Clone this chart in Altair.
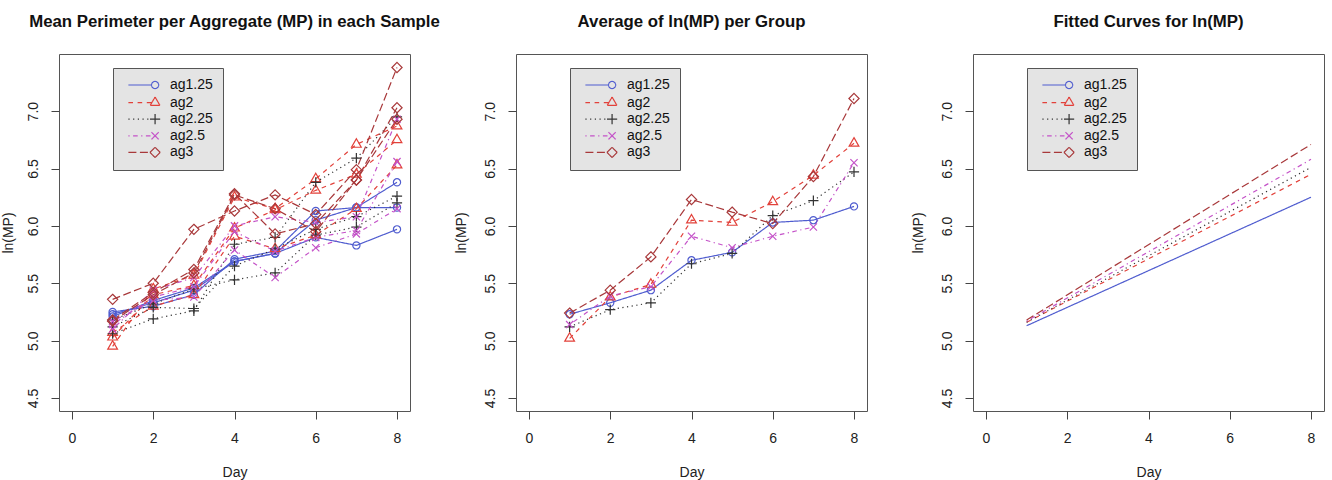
import math
import altair as alt
import pandas as pd

GROUPS = ["ag1.25", "ag2", "ag2.25", "ag2.5", "ag3"]
COLORS = ["#4f5ccf", "#e2413a", "#333333", "#c452c8", "#a8383a"]
DAYS = [1, 2, 3, 4, 5, 6, 7, 8]

# Panel 1: three samples per group, ln(MP) by day
SAMPLES = {
    "ag1.25": [
        [5.25, 5.30, 5.40, 5.71, 5.78, 6.13, 6.16, 6.38],
        [5.23, 5.33, 5.44, 5.69, 5.76, 6.05, 6.16, 6.16],
        [5.21, 5.35, 5.46, 5.69, 5.76, 5.90, 5.83, 5.97],
    ],
    "ag2": [
        [4.95, 5.45, 5.57, 6.25, 6.15, 6.41, 6.71, 6.87],
        [5.03, 5.40, 5.48, 5.98, 6.14, 6.31, 6.45, 6.75],
        [5.07, 5.30, 5.40, 5.91, 5.80, 5.92, 6.15, 6.53],
    ],
    "ag2.25": [
        [5.06, 5.19, 5.26, 5.84, 5.90, 6.38, 6.59, 6.95],
        [5.12, 5.29, 5.28, 5.65, 5.80, 5.97, 6.08, 6.26],
        [5.18, 5.32, 5.45, 5.53, 5.59, 5.92, 5.99, 6.20],
    ],
    "ag2.5": [
        [5.10, 5.44, 5.55, 6.00, 6.08, 6.03, 6.08, 6.93],
        [5.14, 5.38, 5.47, 5.95, 5.78, 5.90, 5.96, 6.56],
        [5.17, 5.35, 5.38, 5.79, 5.55, 5.81, 5.93, 6.15],
    ],
    "ag3": [
        [5.36, 5.50, 5.97, 6.13, 6.27, 6.10, 6.49, 7.38],
        [5.18, 5.42, 5.62, 6.28, 5.93, 6.02, 6.40, 6.93],
        [5.17, 5.40, 5.59, 6.27, 6.15, 5.95, 6.40, 7.03],
    ],
}

# Panel 2: group averages of ln(MP)
AVERAGES = {
    "ag1.25": [5.23, 5.33, 5.44, 5.70, 5.77, 6.03, 6.05, 6.17],
    "ag2":    [5.02, 5.38, 5.49, 6.05, 6.03, 6.21, 6.44, 6.72],
    "ag2.25": [5.12, 5.27, 5.33, 5.67, 5.76, 6.09, 6.22, 6.47],
    "ag2.5":  [5.14, 5.39, 5.47, 5.91, 5.81, 5.91, 5.99, 6.55],
    "ag3":    [5.24, 5.44, 5.73, 6.23, 6.12, 6.02, 6.43, 7.11],
}

# Panel 3: fitted straight lines, value at day 1 and day 8
FIT_DAYS = [1, 8]
FITS = {
    "ag1.25": [5.13, 6.25],
    "ag2":    [5.16, 6.45],
    "ag2.25": [5.16, 6.51],
    "ag2.5":  [5.17, 6.58],
    "ag3":    [5.18, 6.71],
}

X_TICKS = [0, 2, 4, 6, 8]
Y_TICKS = [4.5, 5.0, 5.5, 6.0, 6.5, 7.0]

# ---- tables ----
rows1 = []
for g in GROUPS:
    for i, series in enumerate(SAMPLES[g]):
        for d, v in zip(DAYS, series):
            rows1.append({"group": g, "sample": f"{g}-{i}", "day": d, "value": v})
df1 = pd.DataFrame(rows1)

rows2 = []
for g in GROUPS:
    for d, v in zip(DAYS, AVERAGES[g]):
        rows2.append({"group": g, "sample": g, "day": d, "value": v})
df2 = pd.DataFrame(rows2)

rows3 = []
for g in GROUPS:
    for d, v in zip(FIT_DAYS, FITS[g]):
        rows3.append({"group": g, "sample": g, "day": d, "value": v})
df3 = pd.DataFrame(rows3)

# ---- styles ----
FONT = "Liberation Sans"
DASHES = [[1, 0], [4.6, 4.6], [1.2, 3.5], [1.2, 3.5, 4.6, 3.5], [8, 3.5]]
MARKERS = [
    "M1,0A1,1 0 1,1 -1,0A1,1 0 1,1 1,0Z",
    "M0,-1.555L1.347,0.778L-1.347,0.778Z",
    "M-1.414,0L1.414,0M0,-1.414L0,1.414",
    "M-1,-1L1,1M-1,1L1,-1",
    "M0,-1.414L1.414,0L0,1.414L-1.414,0Z",
]

# outlines of the markers (unit size) as polylines, used to build legend keys
_circle = [(math.cos(2 * math.pi * k / 24), math.sin(2 * math.pi * k / 24)) for k in range(25)]
MARKER_POLYS = [
    [_circle],
    [[(0, -1.555), (1.347, 0.778), (-1.347, 0.778), (0, -1.555)]],
    [[(-1.414, 0), (1.414, 0)], [(0, -1.414), (0, 1.414)]],
    [[(-1, -1), (1, 1)], [(-1, 1), (1, -1)]],
    [[(0, -1.414), (1.414, 0), (0, 1.414), (-1.414, 0), (0, -1.414)]],
]
LINE_END = [5.4, 5.5, 4.986, 5.4, 4.986]
KEY_X = 6.4


def key_path(polys, line_end, step=0.28):
    # the line part is one sub-path (dashed like the series); the marker is cut into
    # short sub-paths so it always shows as a solid outline
    parts = [f"M-1,0L{line_end:.3f},0"]
    for poly in polys:
        for (x0, y0), (x1, y1) in zip(poly[:-1], poly[1:]):
            n = max(1, math.ceil(math.hypot(x1 - x0, y1 - y0) / step))
            for k in range(n):
                ax = x0 + (x1 - x0) * k / n + KEY_X
                ay = y0 + (y1 - y0) * k / n
                bx = x0 + (x1 - x0) * (k + 1) / n + KEY_X
                by = y0 + (y1 - y0) * (k + 1) / n
                parts.append(f"M{ax:.3f},{ay:.3f}L{bx:.3f},{by:.3f}")
    return "".join(parts)


LEGEND_PATHS = [key_path(p, e) for p, e in zip(MARKER_POLYS, LINE_END)]

W, H = 351, 357
MSIZE = 52


def legend():
    return alt.Legend(
        title=None, orient="none", legendX=54, legendY=14,
        fillColor="#e4e4e4", strokeColor="#555", padding=10,
        labelFont=FONT, labelFontSize=14, labelColor="#111",
        labelOffset=31, symbolSize=MSIZE, symbolStrokeWidth=1.2,
        symbolOffset=2, rowPadding=1.6, symbolFillColor="transparent",
    )


def panel(df, title, title_pad, points=True):
    x = alt.X("day:Q", scale=alt.Scale(domain=[-0.32, 8.32], nice=False, zero=False),
              axis=alt.Axis(values=X_TICKS, title="Day", labelPadding=12, titlePadding=20))
    y = alt.Y("value:Q", scale=alt.Scale(domain=[4.387, 7.498], nice=False, zero=False),
              axis=alt.Axis(values=Y_TICKS, format=".1f", title="ln(MP)", labelAngle=270,
                            labelPadding=11, titlePadding=title_pad))
    color = alt.Color("group:N", scale=alt.Scale(domain=GROUPS, range=COLORS), legend=legend())
    dash = alt.StrokeDash("group:N", scale=alt.Scale(domain=GROUPS, range=DASHES), legend=legend())
    shape = alt.Shape("group:N", scale=alt.Scale(domain=GROUPS, range=LEGEND_PATHS), legend=legend())

    lines = alt.Chart(df).mark_line(strokeWidth=1.2).encode(
        x=x, y=y, color=color, strokeDash=dash, detail="sample:N")
    layers = [lines]
    if points:
        for g, m in zip(GROUPS, MARKERS):
            layers.append(
                alt.Chart(df).transform_filter(alt.datum.group == g)
                .mark_point(filled=False, size=MSIZE, strokeWidth=1.2, opacity=1, shape=m)
                .encode(x=x, y=y, color=color)
            )
    # invisible layer carrying the legend keys (line + marker)
    key = alt.Chart(df).transform_filter("false").mark_point(
        filled=False, size=MSIZE, strokeWidth=1.2, opacity=1
    ).encode(x=x, y=y, color=color, strokeDash=dash, shape=shape)
    layers.append(key)
    return alt.layer(*layers).properties(
        width=W, height=H,
        title=alt.TitleParams(title, font=FONT, fontSize=16.8, fontWeight="bold",
                              anchor="middle", baseline="alphabetic", offset=10, color="#111"))


p1 = panel(df1, "Mean Perimeter per Aggregate (MP) in each Sample", 11)
p2 = panel(df2, "Average of ln(MP) per Group", 15)
p3 = panel(df3, "Fitted Curves for ln(MP)", 15, points=False)

chart = alt.hconcat(p1, p2, p3, spacing=106, bounds="flush").resolve_legend(
    color="independent", strokeDash="independent", shape="independent"
).properties(
    padding={"left": 0, "top": 13, "right": 5, "bottom": 5},
    background="white",
).configure_view(
    stroke="#555", strokeWidth=1
).configure_axis(
    domain=False, grid=False, tickColor="#444", tickSize=8, tickWidth=1,
    labelFont=FONT, labelFontSize=14, labelColor="#222",
    titleFont=FONT, titleFontSize=14, titleFontWeight="normal", titleColor="#222",
)

chart.save("out.html", embed_options={"renderer": "svg", "actions": False})
